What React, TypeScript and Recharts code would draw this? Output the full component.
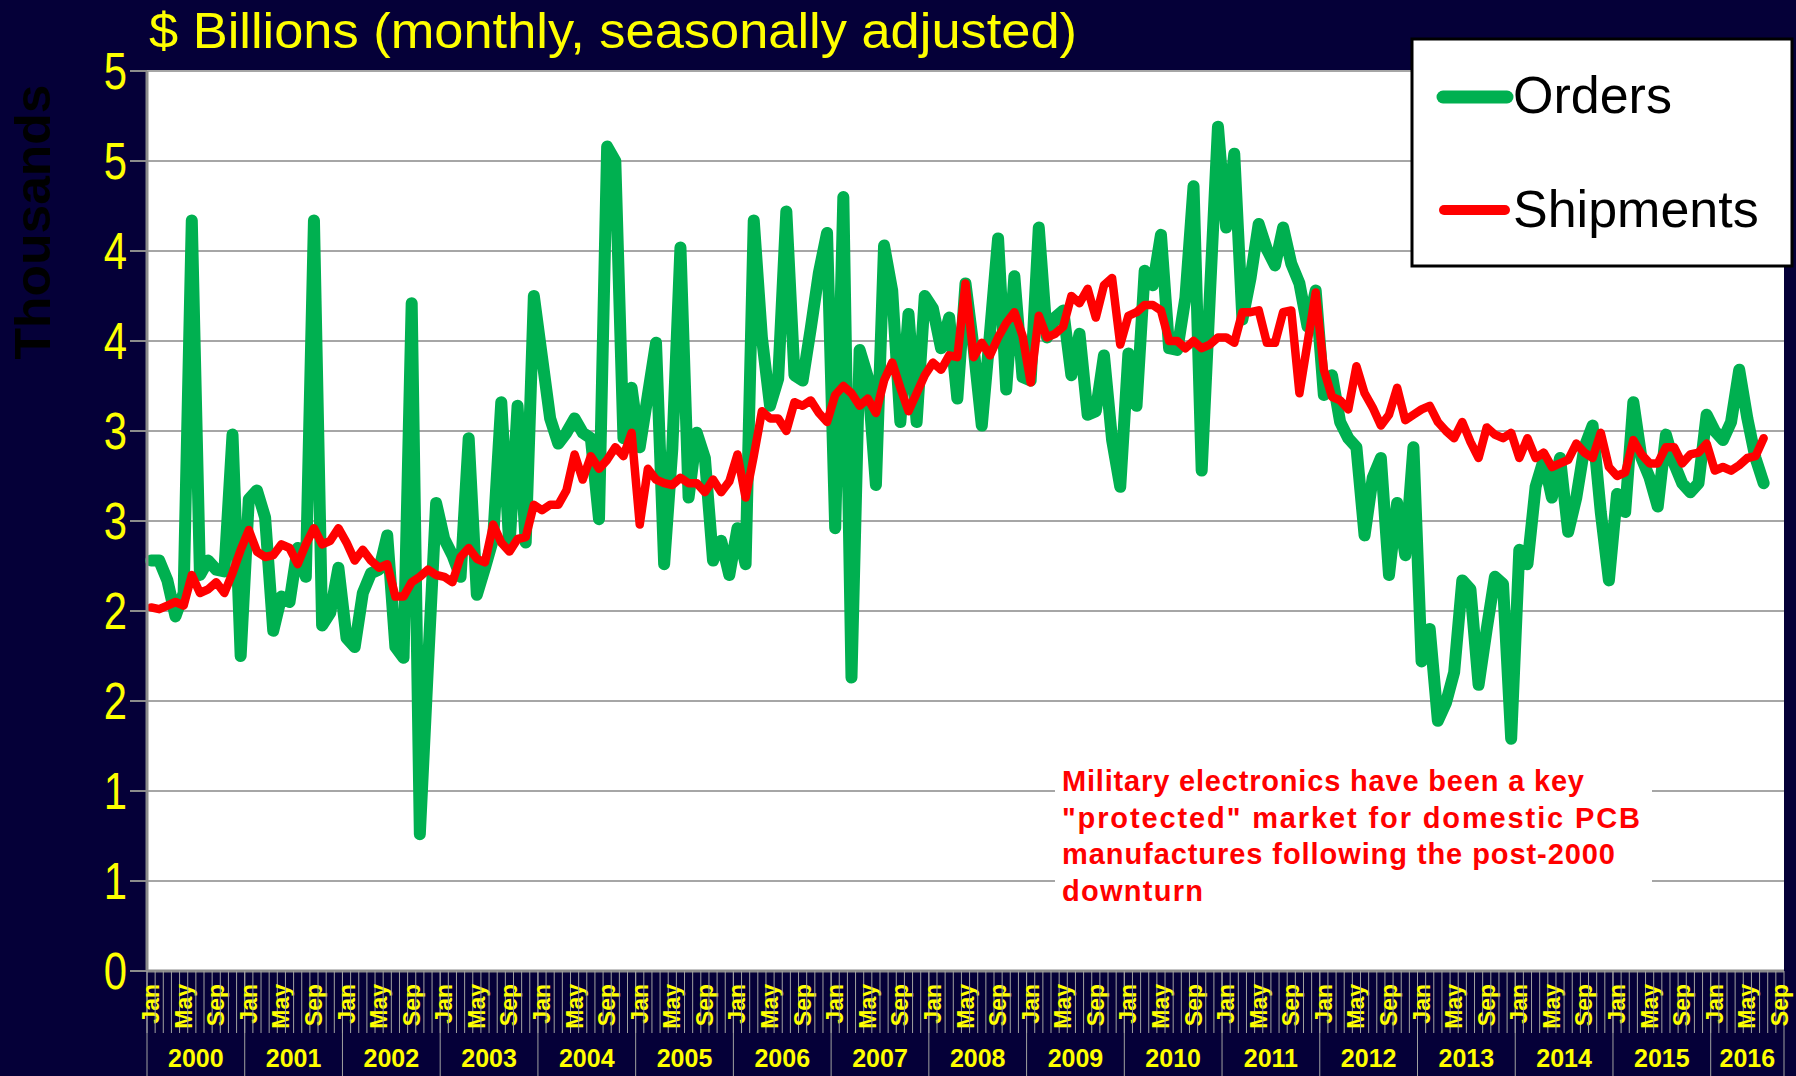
import { LineChart, Line, XAxis, YAxis, CartesianGrid } from 'recharts'

const years = [2000, 2001, 2002, 2003, 2004, 2005, 2006, 2007, 2008, 2009, 2010, 2011, 2012, 2013, 2014, 2015, 2016]
const monthNames = ['Jan', 'Feb', 'Mar', 'Apr', 'May', 'Jun', 'Jul', 'Aug', 'Sep', 'Oct', 'Nov', 'Dec']
const labelledMonths = ['Jan', 'May', 'Sep']
const lastCategory = 'Sep 2016'

// $ billions, monthly, Jan 2000 - Jul 2016
const orders = [
  2.28, 2.28, 2.17, 1.97, 2.1, 4.17, 2.2, 2.28, 2.23, 2.22, 2.98, 1.75,
  2.62, 2.67, 2.52, 1.89, 2.08, 2.05, 2.35, 2.19, 4.17, 1.92, 1.99, 2.24,
  1.85, 1.8, 2.1, 2.21, 2.23, 2.42, 1.8, 1.74, 3.71, 0.76, 1.7, 2.6,
  2.4, 2.31, 2.19, 2.96, 2.09, 2.24, 2.4, 3.16, 2.35, 3.14, 2.38, 3.75,
  3.41, 3.07, 2.93, 2.99, 3.07, 2.99, 2.96, 2.51, 4.58, 4.5, 2.96, 3.24,
  2.91, 3.2, 3.49, 2.26, 2.9, 4.02, 2.63, 2.99, 2.85, 2.28, 2.39, 2.2,
  2.46, 2.26, 4.17, 3.52, 3.14, 3.29, 4.22, 3.31, 3.28, 3.57, 3.88, 4.1,
  2.46, 4.3, 1.63, 3.45, 3.3, 2.7, 4.03, 3.78, 3.05, 3.65, 3.05, 3.75,
  3.68, 3.46, 3.63, 3.18, 3.82, 3.46, 3.03, 3.54, 4.07, 3.23, 3.86, 3.3,
  3.28, 4.13, 3.52, 3.63, 3.67, 3.31, 3.54, 3.09, 3.11, 3.42, 2.95, 2.69,
  3.43, 3.14, 3.89, 3.81, 4.09, 3.46, 3.45, 3.74, 4.36, 2.78, 3.75, 4.69,
  4.13, 4.54, 3.62, 3.85, 4.15, 4.01, 3.92, 4.13, 3.93, 3.82, 3.58, 3.78,
  3.2, 3.31, 3.05, 2.96, 2.91, 2.42, 2.74, 2.85, 2.2, 2.6, 2.31, 2.91,
  1.72, 1.9, 1.39, 1.49, 1.66, 2.17, 2.12, 1.59, 1.9, 2.19, 2.15, 1.29,
  2.34, 2.26, 2.69, 2.84, 2.63, 2.85, 2.44, 2.63, 2.91, 3.03, 2.55, 2.17,
  2.65, 2.55, 3.16, 2.85, 2.74, 2.58, 2.98, 2.82, 2.71, 2.66, 2.71, 3.09,
  3.0, 2.95, 3.05, 3.34, 3.07, 2.85, 2.71,
]

const shipments = [
  2.02, 2.01, 2.03, 2.05, 2.03, 2.2, 2.1, 2.12, 2.16, 2.1, 2.21, 2.34,
  2.45, 2.33, 2.3, 2.31, 2.37, 2.35, 2.26, 2.37, 2.46, 2.37, 2.39, 2.46,
  2.38, 2.28, 2.34, 2.28, 2.24, 2.26, 2.08, 2.08, 2.16, 2.19, 2.23, 2.2,
  2.19, 2.16, 2.3, 2.35, 2.29, 2.27, 2.48, 2.38, 2.33, 2.4, 2.41, 2.59,
  2.56, 2.59, 2.59, 2.67, 2.87, 2.73, 2.86, 2.79, 2.84, 2.91, 2.86, 2.99,
  2.48, 2.79, 2.73, 2.71, 2.7, 2.74, 2.71, 2.71, 2.66, 2.73, 2.66, 2.72,
  2.87, 2.63, 2.86, 3.11, 3.07, 3.07, 3.0, 3.16, 3.14, 3.17, 3.1, 3.05,
  3.2, 3.25, 3.21, 3.14, 3.18, 3.1, 3.28, 3.38, 3.24, 3.11, 3.21, 3.31,
  3.38, 3.34, 3.42, 3.41, 3.82, 3.41, 3.49, 3.42, 3.52, 3.6, 3.66, 3.53,
  3.27, 3.64, 3.52, 3.54, 3.58, 3.75, 3.71, 3.79, 3.63, 3.81, 3.85, 3.48,
  3.64, 3.66, 3.7, 3.7, 3.67, 3.5, 3.5, 3.46, 3.5, 3.46, 3.48, 3.52,
  3.52, 3.49, 3.66, 3.66, 3.67, 3.49, 3.49, 3.66, 3.67, 3.21, 3.49, 3.77,
  3.34, 3.19, 3.17, 3.12, 3.36, 3.21, 3.13, 3.03, 3.09, 3.24, 3.06, 3.09,
  3.12, 3.14, 3.05, 3.0, 2.96, 3.05, 2.94, 2.85, 3.02, 2.98, 2.96, 2.99,
  2.85, 2.96, 2.85, 2.88, 2.8, 2.82, 2.84, 2.93, 2.88, 2.85, 2.99, 2.8,
  2.75, 2.77, 2.95, 2.87, 2.82, 2.82, 2.91, 2.91, 2.82, 2.87, 2.88, 2.93,
  2.78, 2.8, 2.78, 2.81, 2.85, 2.86, 2.96,
]

const yTicks = [0, 0.5, 1, 1.5, 2, 2.5, 3, 3.5, 4, 4.5, 5]

const noteLines = [
  'Military electronics have been a key',
  '"protected" market for domestic PCB',
  'manufactures following the post-2000',
  'downturn',
]
const noteWidths = [522, 578, 553, 141]

const allMonths = years.flatMap((year) => monthNames.map((month) => ({ month, year, key: `${month} ${year}` })))
const categories = allMonths.slice(0, allMonths.findIndex((c) => c.key === lastCategory) + 1)
const data = categories.map((c, i) => ({
  ...c,
  orders: orders[i] ?? null,
  shipments: shipments[i] ?? null,
}))
const monthsInYear = (year: number) => categories.filter((c) => c.year === year).length

const W = 1796
const H = 1076
const PLOT_LEFT = 147
const PLOT_RIGHT = 1784
const PLOT_TOP = 71
const AXIS_Y = 971
const BAND = (PLOT_RIGHT - PLOT_LEFT) / categories.length

const NAVY = '#050038'
const YELLOW = '#ffff00'
const GREEN = '#00b050'
const RED = '#ff0000'
const FONT = '"Liberation Sans", Arial, sans-serif'

function YTick(props: any) {
  const { y, payload } = props
  return (
    <text
      transform={`translate(127, ${y + 1}) scale(0.82, 1)`}
      textAnchor="end"
      dominantBaseline="central"
      fill={YELLOW}
      fontSize={51}
      fontFamily={FONT}
    >
      {Math.round(payload.value)}
    </text>
  )
}

function MonthTick(props: any) {
  const { x, index } = props
  const c = data[index]
  if (!c) return null
  const left = x - BAND / 2
  const isLast = index === data.length - 1
  return (
    <g>
      <line x1={left} x2={left} y1={AXIS_Y} y2={AXIS_Y + 62} stroke="#a0a0a0" strokeWidth={1} />
      {c.month === 'Jan' && (
        <>
          <line x1={left} x2={left} y1={AXIS_Y} y2={H} stroke="#a0a0a0" strokeWidth={1} />
          <text
            x={left + (monthsInYear(c.year) * BAND) / 2}
            y={1058}
            textAnchor="middle"
            dominantBaseline="central"
            fill={YELLOW}
            fontSize={25}
            fontWeight="bold"
            fontFamily={FONT}
          >
            {c.year}
          </text>
        </>
      )}
      {isLast && <line x1={x + BAND / 2} x2={x + BAND / 2} y1={AXIS_Y} y2={H} stroke="#a0a0a0" strokeWidth={1} />}
      {labelledMonths.includes(c.month) && (
        <text
          x={x}
          y={984}
          transform={`rotate(-90, ${x}, 984)`}
          textAnchor="end"
          dominantBaseline="central"
          fill={YELLOW}
          fontSize={23}
          fontWeight="bold"
          fontFamily={FONT}
        >
          {c.month}
        </text>
      )}
    </g>
  )
}

export default function App() {
  return (
    <div style={{ position: 'absolute', left: 0, top: 0, width: W, height: H, background: NAVY, overflow: 'hidden' }}>
      <LineChart
        width={W}
        height={H}
        data={data}
        margin={{ top: PLOT_TOP, right: W - PLOT_RIGHT, bottom: 0, left: 0 }}
      >
        <CartesianGrid vertical={false} fill="#ffffff" fillOpacity={1} stroke="#a6a6a6" strokeWidth={2} />
        <XAxis
          dataKey="key"
          height={H - AXIS_Y}
          interval={0}
          tickLine={false}
          tick={<MonthTick />}
          axisLine={{ stroke: '#8c8c8c', strokeWidth: 3 }}
          padding={{ left: BAND / 2, right: BAND / 2 }}
        />
        <YAxis
          type="number"
          domain={[0, 5]}
          ticks={yTicks}
          interval={0}
          width={PLOT_LEFT}
          tickSize={17}
          tickLine={{ stroke: '#8c8c8c', strokeWidth: 2 }}
          axisLine={{ stroke: '#8c8c8c', strokeWidth: 3 }}
          tick={<YTick />}
        />
        <Line
          type="linear"
          dataKey="orders"
          stroke={GREEN}
          strokeWidth={12}
          strokeLinejoin="round"
          strokeLinecap="round"
          dot={false}
          activeDot={false}
          isAnimationActive={false}
        />
        <Line
          type="linear"
          dataKey="shipments"
          stroke={RED}
          strokeWidth={8.5}
          strokeLinejoin="round"
          strokeLinecap="round"
          dot={false}
          activeDot={false}
          isAnimationActive={false}
        />
      </LineChart>

      <svg width={W} height={H} style={{ position: 'absolute', left: 0, top: 0, pointerEvents: 'none' }}>
        <text
          x={149}
          y={48}
          fill={YELLOW}
          fontSize={50}
          fontFamily={'"Liberation Sans Narrow", ' + FONT}
          textLength={928}
          lengthAdjust="spacingAndGlyphs"
        >
          $ Billions (monthly, seasonally adjusted)
        </text>
        <text
          x={33}
          y={222}
          transform="rotate(-90, 33, 222)"
          textAnchor="middle"
          dominantBaseline="central"
          fill="#000000"
          fontSize={50}
          fontWeight="bold"
          fontFamily={FONT}
          textLength={275}
          lengthAdjust="spacingAndGlyphs"
        >
          Thousands
        </text>

        <rect x={1412} y={39} width={380} height={227} fill="#ffffff" stroke="#000000" strokeWidth={3} />
        <line x1={1443} x2={1507} y1={97} y2={97} stroke={GREEN} strokeWidth={13} strokeLinecap="round" />
        <text x={1513} y={113} fontSize={52} fontFamily={FONT} fill="#000000">Orders</text>
        <line x1={1444} x2={1505} y1={210} y2={210} stroke={RED} strokeWidth={10} strokeLinecap="round" />
        <text x={1513} y={227} fontSize={52} fontFamily={FONT} fill="#000000">Shipments</text>

        <rect x={1055} y={762} width={597} height={146} fill="#ffffff" />
        {noteLines.map((line, i) => (
          <text
            key={line}
            x={1062}
            y={791 + i * 36.7}
            fill={RED}
            fontSize={29}
            fontWeight="bold"
            fontFamily={FONT}
            textLength={noteWidths[i]}
            lengthAdjust="spacing"
          >
            {line}
          </text>
        ))}
      </svg>
    </div>
  )
}
